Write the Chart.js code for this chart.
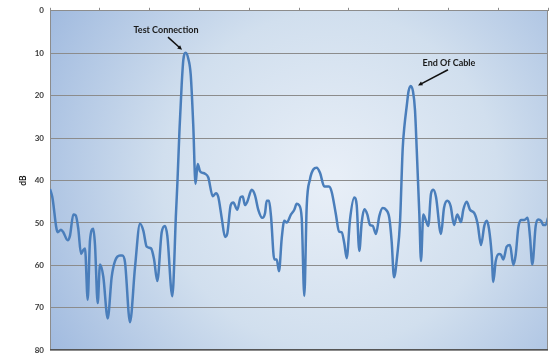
<!DOCTYPE html>
<html>
<head>
<meta charset="utf-8">
<script src="https://cdn.jsdelivr.net/npm/chart.js@4/dist/chart.umd.min.js"></script>
<style>
  html, body { margin: 0; padding: 0; background: #fff; }
  #wrap { width: 550px; height: 361px; }
</style>
</head>
<body>
<div id="wrap"><canvas id="traceChart" width="550" height="361"></canvas></div>
<script>
// trace samples: distance along cable (arbitrary units) and return loss in dB
const distance = [
  0, 2.3, 7.7, 11, 13.3, 17.7, 20, 23.3, 25.7, 28.3,
  31, 33.3, 35, 37.7, 40, 43.3, 45, 47.7, 50, 53.3,
  57.7, 61.7, 65, 70, 72.3, 75, 80, 85, 90, 93.3,
  96.7, 101, 104, 107.3, 111.7, 115, 117.3, 122.3, 126, 127.5,
  129.5, 131.7, 133.3, 135.7, 138.3, 140.7, 143.3, 145.5, 147.7, 150,
  155, 158.3, 162.7, 166, 168.3, 171.7, 175, 177.3, 180.7, 183.3,
  187.3, 190.7, 192.7, 195, 197.3, 201.7, 205, 208.3, 212.3, 215,
  216.7, 219, 221, 224.3, 226.7, 229, 231.7, 234.3, 236.7, 241,
  244.3, 246.7, 249, 251.7, 254.3, 256.7, 260, 263.3, 266.7, 270,
  274.3, 279, 281.7, 285.7, 289, 291.7, 294.3, 296.7, 300, 304.3,
  306.7, 309.3, 311.7, 314.3, 317.3, 320, 322.7, 326, 329.3, 332.7,
  336, 339.3, 341.7, 344, 347.3, 350, 352.7, 354.5, 356.7, 358.5,
  360.7, 363, 365, 366.7, 369.3, 371, 373.3, 376, 378.3, 381,
  383.3, 386, 391, 394, 397.3, 400.7, 404, 407.3, 411, 413.3,
  416.7, 420, 424.3, 427.7, 431, 434.3, 436.7, 439, 441.7, 443.3,
  445.7, 449, 451, 453.3, 456.7, 460, 463.3, 465.7, 468.3, 471,
  474.3, 477.7, 480, 482.3, 485.7, 488.3, 491, 493.3, 495.7, 498
];
const loss = [
  42.0, 43.9, 52.2, 51.6, 52.2, 54.1, 53, 48, 48.2, 51.4,
  57.3, 56.4, 56, 68.1, 54.1, 51.4, 55.2, 68.9, 59.8, 62.7,
  72.5, 62.7, 59, 57.7, 57.7, 59.3, 73.4, 60.5, 50.2, 51.8,
  55.6, 56, 58.5, 63.7, 52.2, 50.7, 53, 67.3, 47.7, 40,
  28, 17.3, 11.6, 9.9, 11.3, 15, 27.2, 40.8, 36.1, 37.8,
  38.4, 39.3, 43.7, 43, 43.9, 48.8, 53.3, 52.5, 45.8, 45.2,
  46.9, 43.9, 43.8, 45.8, 45, 42.2, 43.5, 46.9, 48.8, 47.7,
  44.8, 44.8, 48.4, 58.6, 58.6, 61.4, 53.7, 49.5, 49.9, 48,
  46.9, 45.5, 45.8, 48.8, 67.2, 46.1, 39.7, 37.4, 37, 38.2,
  41.4, 41.4, 42.7, 47.7, 52, 52.2, 54.8, 58.3, 49.2, 44,
  45.8, 56.6, 49.9, 46.8, 48, 50.5, 50.7, 52.6, 48.4, 46.5,
  46.9, 48.8, 54.5, 62.8, 57.5, 49.9, 32.5, 27, 22.5, 19,
  17.7, 19, 23.4, 32.5, 47.7, 59, 48, 49.5, 50.7, 43.1,
  42.2, 43.9, 52.6, 46.5, 44.8, 46.1, 50.5, 48, 49.8, 46.9,
  45, 46.9, 47.7, 50.3, 55.2, 50.7, 49.5, 51.4, 57.5, 63.9,
  59, 57.3, 57.5, 58.6, 55.6, 55.2, 59.9, 57.5, 51.1, 49.3,
  49.3, 48.8, 53.3, 59.8, 50.7, 49.2, 49.5, 50.5, 50.5, 48.8
];
const yTicks = [0, 10, 20, 30, 40, 50, 60, 70, 80];

// callouts: text position and arrow tail/head, in data units
const callouts = [
  { text: 'Test Connection', at: [116, 4.5], from: [118, 6.2], to: [132, 9.2] },
  { text: 'End Of Cable', at: [399, 12.4], from: [398, 13.9], to: [368, 17.6] }
];

const points = distance.map((d, i) => ({ x: d, y: loss[i] }));

const plotBackground = {
  id: 'plotBackground',
  beforeDraw(chart) {
    const { ctx, chartArea: a } = chart;
    const g = ctx.createRadialGradient(330, 180, 10, 330, 180, 360);
    g.addColorStop(0, '#e7eef7');
    g.addColorStop(0.45, '#d1dfee');
    g.addColorStop(1, '#97b3dc');
    ctx.save();
    ctx.fillStyle = g;
    ctx.fillRect(a.left, a.top, a.right - a.left, a.bottom - a.top);
    ctx.restore();
  },
  afterDraw(chart) {
    const { ctx, chartArea: a } = chart;
    ctx.save();
    ctx.strokeStyle = '#8c8c8c';
    ctx.lineWidth = 1;
    ctx.beginPath();
    ctx.moveTo(Math.round(a.right) - 0.5, a.top);
    ctx.lineTo(Math.round(a.right) - 0.5, a.bottom);
    ctx.stroke();
    ctx.strokeStyle = '#555';
    ctx.beginPath();
    ctx.moveTo(a.left, Math.round(a.bottom) - 0.5);
    ctx.lineTo(a.right, Math.round(a.bottom) - 0.5);
    ctx.stroke();
    ctx.restore();
  }
};

const calloutPlugin = {
  id: 'callouts',
  afterDatasetsDraw(chart) {
    const { ctx, scales: { x, y } } = chart;
    ctx.save();
    ctx.font = 'bold 9px Lato, "Open Sans", sans-serif';
    ctx.textAlign = 'center';
    ctx.textBaseline = 'middle';
    callouts.forEach(c => {
      ctx.fillStyle = '#1a1a1a';
      ctx.fillText(c.text, x.getPixelForValue(c.at[0]), y.getPixelForValue(c.at[1]));
      const x1 = x.getPixelForValue(c.from[0]), y1 = y.getPixelForValue(c.from[1]);
      const x2 = x.getPixelForValue(c.to[0]), y2 = y.getPixelForValue(c.to[1]);
      const ang = Math.atan2(y2 - y1, x2 - x1);
      ctx.strokeStyle = '#111';
      ctx.lineWidth = 1.5;
      ctx.beginPath();
      ctx.moveTo(x1, y1);
      ctx.lineTo(x2 - 3 * Math.cos(ang), y2 - 3 * Math.sin(ang));
      ctx.stroke();
      ctx.beginPath();
      ctx.moveTo(x2, y2);
      ctx.lineTo(x2 - 5 * Math.cos(ang - 0.45), y2 - 5 * Math.sin(ang - 0.45));
      ctx.lineTo(x2 - 5 * Math.cos(ang + 0.45), y2 - 5 * Math.sin(ang + 0.45));
      ctx.closePath();
      ctx.fillStyle = '#111';
      ctx.fill();
    });
    ctx.restore();
  }
};

new Chart(document.getElementById('traceChart').getContext('2d'), {
  type: 'line',
  data: {
    datasets: [{
      label: 'Return loss',
      data: points,
      borderColor: '#4a7ebb',
      borderWidth: 2.5,
      pointRadius: 0,
      fill: false,
      cubicInterpolationMode: 'monotone'
    }]
  },
  options: {
    responsive: false,
    animation: false,
    layout: { padding: { left: 14, right: 2, top: 7, bottom: 2 } },
    plugins: {
      legend: { display: false },
      tooltip: { enabled: false }
    },
    scales: {
      x: {
        type: 'linear',
        position: 'top',
        min: 0,
        max: 498,
        afterFit: (scale) => { scale.height = 0; },
        ticks: { display: false, stepSize: 50 },
        grid: { drawOnChartArea: false, drawTicks: true, tickLength: 3, color: '#8c8c8c' },
        border: { color: '#8c8c8c' }
      },
      y: {
        reverse: true,
        min: 0,
        max: 80,
        afterFit: (scale) => { scale.width = 36; },
        afterBuildTicks: (scale) => { scale.ticks = yTicks.map(v => ({ value: v })); },
        ticks: {
          padding: 6,
          color: '#3a3a3a',
          font: { family: 'Lato, "Open Sans", sans-serif', size: 8, weight: 'bold' }
        },
        grid: { color: '#8c8c8c', drawTicks: false },
        border: { color: '#8c8c8c' },
        title: {
          display: true,
          text: 'dB',
          color: '#1a1a1a',
          padding: { top: 4, bottom: 0 },
          font: { family: 'Lato, "Open Sans", sans-serif', size: 8.5, weight: 'bold' }
        }
      }
    }
  },
  plugins: [plotBackground, calloutPlugin]
});
</script>
</body>
</html>
